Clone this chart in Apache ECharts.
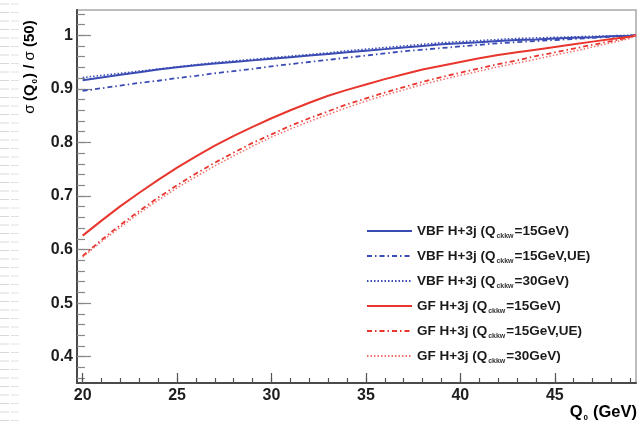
<!DOCTYPE html>
<html>
<head>
<meta charset="utf-8">
<script src="https://cdn.jsdelivr.net/npm/echarts@6/dist/echarts.min.js"></script>
<style>
  html, body { margin: 0; padding: 0; background: #fff; }
  #chart { width: 639px; height: 425px; }
</style>
</head>
<body>
<div id="chart"></div>
<script>
// Q0 scan points (GeV)
const qValues = [20, 21, 22, 23, 24, 25, 26, 27, 28, 29, 30, 31, 32, 33, 34, 35, 36, 37, 38, 39,
                 40, 41, 42, 43, 44, 45, 46, 47, 48, 49, 49.3];

// sigma(Q0)/sigma(50) ratios
const vbf15 = [0.916, 0.921, 0.926, 0.931, 0.936, 0.940, 0.944, 0.947, 0.950, 0.953,
               0.956, 0.959, 0.962, 0.965, 0.968, 0.971, 0.974, 0.977, 0.980, 0.983,
               0.985, 0.987, 0.989, 0.991, 0.992, 0.994, 0.995, 0.996, 0.998, 0.999, 1.0];
const vbf15UE = [0.896, 0.901, 0.906, 0.911, 0.915, 0.920, 0.924, 0.929, 0.933, 0.937,
                 0.942, 0.946, 0.950, 0.954, 0.958, 0.962, 0.966, 0.970, 0.973, 0.976,
                 0.979, 0.982, 0.985, 0.987, 0.989, 0.991, 0.993, 0.995, 0.997, 0.999, 1.0];
const vbf30 = [0.921, 0.925, 0.929, 0.933, 0.937, 0.941, 0.945, 0.949, 0.952, 0.955,
               0.958, 0.961, 0.964, 0.967, 0.971, 0.974, 0.977, 0.980, 0.983, 0.986,
               0.988, 0.990, 0.992, 0.994, 0.995, 0.996, 0.997, 0.998, 0.999, 1.0, 1.0];
const gf15 = [0.626, 0.654, 0.681, 0.706, 0.730, 0.753, 0.774, 0.794, 0.812, 0.829,
              0.845, 0.860, 0.874, 0.887, 0.898, 0.908, 0.918, 0.927, 0.936, 0.943,
              0.950, 0.957, 0.963, 0.968, 0.973, 0.978, 0.983, 0.988, 0.993, 0.997, 1.0];
const gf15UE = [0.588, 0.618, 0.646, 0.672, 0.697, 0.720, 0.742, 0.762, 0.781, 0.799,
                0.815, 0.831, 0.845, 0.858, 0.871, 0.882, 0.893, 0.903, 0.913, 0.922,
                0.930, 0.938, 0.946, 0.953, 0.961, 0.968, 0.975, 0.982, 0.989, 0.996, 1.0];
const gf30 = [0.586, 0.615, 0.642, 0.668, 0.692, 0.715, 0.736, 0.756, 0.775, 0.793,
              0.810, 0.825, 0.839, 0.852, 0.865, 0.877, 0.888, 0.898, 0.908, 0.917,
              0.925, 0.933, 0.941, 0.948, 0.955, 0.963, 0.970, 0.978, 0.986, 0.994, 1.0];

// axis tick labels
const xTickLabels = [20, 25, 30, 35, 40, 45];
const yTickLabels = [0.4, 0.5, 0.6, 0.7, 0.8, 0.9, 1];

// legend texts: [prefix, subscript, suffix]
const legendTexts = [
  ['VBF H+3j (Q', 'ckkw', '=15GeV)'],
  ['VBF H+3j (Q', 'ckkw', '=15GeV,UE)'],
  ['VBF H+3j (Q', 'ckkw', '=30GeV)'],
  ['GF H+3j (Q', 'ckkw', '=15GeV)'],
  ['GF H+3j (Q', 'ckkw', '=15GeV,UE)'],
  ['GF H+3j (Q', 'ckkw', '=30GeV)']
];

const BLUE = '#3a4bb4';
const RED = '#e8362e';
const RED_LIGHT = '#f2716a';
const FONT = '"Liberation Sans", Arial, sans-serif';

const seriesDefs = [
  { values: vbf15,   color: BLUE, type: 'solid',        width: 2 },
  { values: vbf15UE, color: BLUE, type: [5, 3, 1.5, 3], width: 1.8 },
  { values: vbf30,   color: BLUE, type: [1.5, 2],       width: 1.5 },
  { values: gf15,    color: RED,  type: 'solid',        width: 2 },
  { values: gf15UE,  color: RED,  type: [5, 3, 1.5, 3], width: 1.8 },
  { values: gf30,    color: RED_LIGHT, type: [1.5, 2],  width: 1.5 }
];

const names = legendTexts.map(t => t.join(''));

const series = seriesDefs.map((d, i) => ({
  name: names[i],
  type: 'line',
  data: qValues.map((q, k) => [q, d.values[k]]),
  symbol: 'none',
  smooth: false,
  lineStyle: { color: d.color, width: d.width, type: d.type },
  itemStyle: { color: d.color },
  z: 3
}));

const xMin = 19.7, xMax = 49.3, yMin = 0.351, yMax = 1.047;

// minor tick positions
const xMinor = [];
for (let q = 20; q <= 49; q++) xMinor.push(q);
const yMinor = [];
for (let k = 18; k <= 52; k++) yMinor.push(+(k * 0.02).toFixed(2));

const legendRich = {
  t: { fontFamily: FONT, fontWeight: 'bold', fontSize: 13.5, color: '#1a1a1a', lineHeight: 17 },
  s: { fontFamily: FONT, fontWeight: 'bold', fontSize: 7, color: '#333', lineHeight: 5,
       verticalAlign: 'bottom', padding: [0, 1, 0, 1] }
};

const legends = names.map((n, i) => ({
  data: [n],
  left: 366,
  top: 224 + i * 25,
  padding: 0,
  itemWidth: 45,
  itemHeight: 12,
  selectedMode: false,
  itemStyle: { opacity: 0 },
  formatter: () => {
    const t = legendTexts[i];
    return '{t|' + t[0] + '}{s|' + t[1] + '}{t|' + t[2] + '}';
  },
  textStyle: { rich: legendRich }
}));

// light grey margin rules along the left edge
const marginRules = [];
for (let y = 4; y < 425; y += 8.5) {
  marginRules.push({
    type: 'line',
    shape: { x1: 0, y1: y, x2: 9, y2: y },
    style: { stroke: '#d8d8d8', lineWidth: 1 }
  });
  marginRules.push({
    type: 'line',
    shape: { x1: 11, y1: y, x2: 19, y2: y },
    style: { stroke: '#e2e2e2', lineWidth: 1 }
  });
}

const chart = echarts.init(document.getElementById('chart'), null, { renderer: 'canvas' });
chart.setOption({
  backgroundColor: '#fff',
  animation: false,
  grid: {
    left: 77, right: 3, top: 10, bottom: 42,
    show: true, borderColor: '#a8a8a8', borderWidth: 1.5, backgroundColor: 'transparent'
  },
  legend: legends,
  xAxis: [
    {
      type: 'value', min: xMin, max: xMax, position: 'bottom',
      axisLine: { show: true, onZero: false, lineStyle: { color: '#4a4a4a', width: 2 } },
      axisTick: { show: true, inside: true, length: 10, customValues: xTickLabels,
                  lineStyle: { color: '#555', width: 1.2 } },
      axisLabel: { customValues: xTickLabels, fontFamily: FONT, fontWeight: 'bold',
                   fontSize: 16, color: '#1e1e1e', margin: 5 },
      splitLine: { show: false }
    },
    {
      type: 'value', min: xMin, max: xMax, position: 'bottom', offset: 0,
      axisLine: { show: false },
      axisTick: { show: true, inside: true, length: 5, customValues: xMinor,
                  lineStyle: { color: '#555', width: 1.2 } },
      axisLabel: { show: false },
      splitLine: { show: false }
    }
  ],
  yAxis: [
    {
      type: 'value', min: yMin, max: yMax, position: 'left',
      axisLine: { show: true, onZero: false, lineStyle: { color: '#4a4a4a', width: 2 } },
      axisTick: { show: true, inside: true, length: 14, customValues: yTickLabels,
                  lineStyle: { color: '#888', width: 1.2 } },
      axisLabel: { customValues: yTickLabels, fontFamily: FONT, fontWeight: 'bold',
                   fontSize: 16, color: '#1e1e1e', margin: 4 },
      splitLine: { show: false }
    },
    {
      type: 'value', min: yMin, max: yMax, position: 'left', offset: 0,
      axisLine: { show: false },
      axisTick: { show: true, inside: true, length: 8, customValues: yMinor,
                  lineStyle: { color: '#888', width: 1.2 } },
      axisLabel: { show: false },
      splitLine: { show: false }
    }
  ],
  series: series,
  graphic: [
    {
      type: 'group',
      silent: true,
      children: marginRules
    },
    {
      type: 'text',
      x: 30, y: 67,
      rotation: Math.PI / 2,
      style: {
        text: '{g|σ} {a|(Q}{s|0}{a|) / }{g|σ}{a| (50)}',
        align: 'center', verticalAlign: 'middle',
        rich: {
          a: { fontFamily: FONT, fontWeight: 'bold', fontSize: 15, color: '#1e1e1e', lineHeight: 18 },
          g: { fontFamily: FONT, fontWeight: 'normal', fontSize: 15, color: '#555', lineHeight: 18 },
          s: { fontFamily: FONT, fontWeight: 'bold', fontSize: 8, color: '#333', lineHeight: 5,
               verticalAlign: 'bottom', padding: [0, 1, 0, 1] }
        }
      }
    },
    {
      type: 'text',
      x: 637, y: 412,
      style: {
        text: '{a|Q}{s|0}{a|(GeV)}',
        align: 'right', verticalAlign: 'middle',
        rich: {
          a: { fontFamily: FONT, fontWeight: 'bold', fontSize: 16.5, color: '#1e1e1e', lineHeight: 19 },
          s: { fontFamily: FONT, fontWeight: 'bold', fontSize: 8, color: '#333', lineHeight: 5,
               verticalAlign: 'bottom', padding: [0, 5, 0, 1] }
        }
      }
    }
  ]
});
</script>
</body>
</html>
